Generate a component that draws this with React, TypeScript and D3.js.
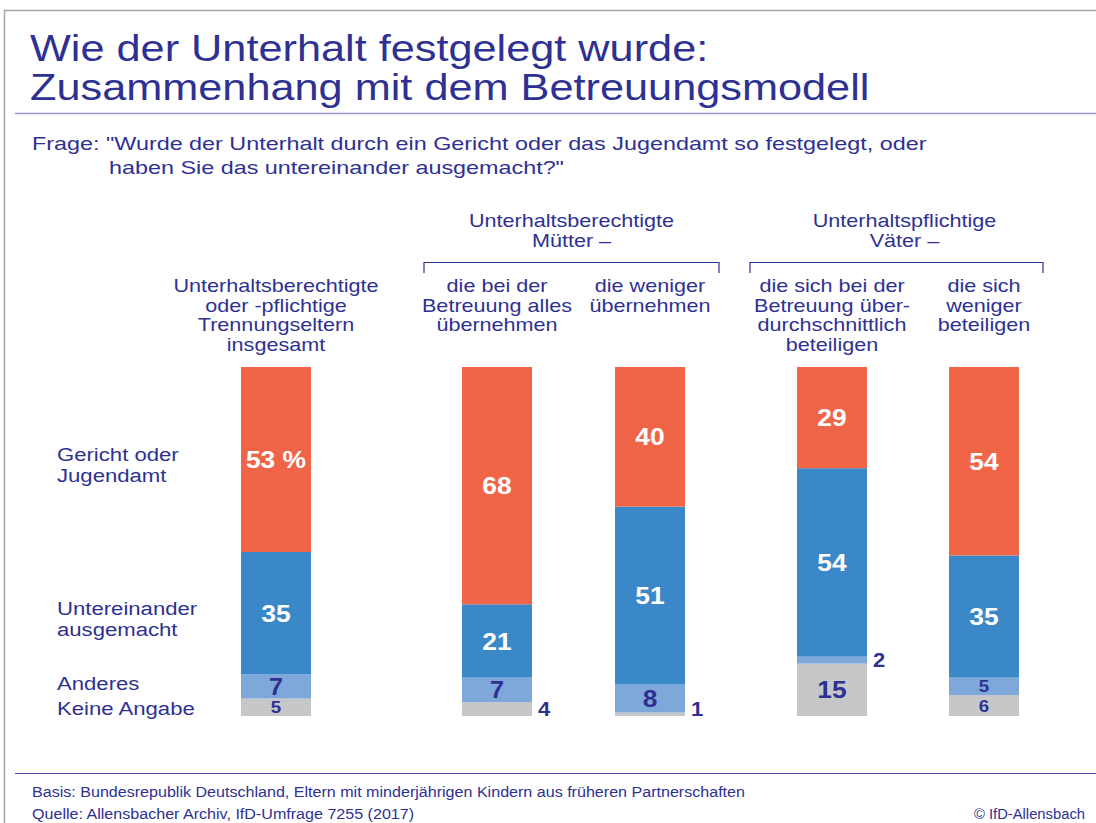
import * as d3 from "d3";

// --- data ---
const columns = ["gesamt", "muetterAlles", "muetterWeniger", "vaeterMehr", "vaeterWeniger"];
const columnLabels = [
  ["Unterhaltsberechtigte", "oder -pflichtige", "Trennungseltern", "insgesamt"],
  ["die bei der", "Betreuung alles", "übernehmen"],
  ["die weniger", "übernehmen"],
  ["die sich bei der", "Betreuung über-", "durchschnittlich", "beteiligen"],
  ["die sich", "weniger", "beteiligen"],
];
const gericht = [53, 68, 40, 29, 54];
const untereinander = [35, 21, 51, 54, 35];
const anderes = [7, 7, 8, 2, 5];
const keineAngabe = [5, 4, 1, 15, 6];

const seriesKeys = ["keine", "anderes", "untereinander", "gericht"];
const seriesLabels = {
  gericht: ["Gericht oder", "Jugendamt"],
  untereinander: ["Untereinander", "ausgemacht"],
  anderes: ["Anderes"],
  keine: ["Keine Angabe"],
};
const groups = [
  { label: ["Unterhaltsberechtigte", "Mütter –"], cols: ["muetterAlles", "muetterWeniger"] },
  { label: ["Unterhaltspflichtige", "Väter –"], cols: ["vaeterMehr", "vaeterWeniger"] },
];

const titleLines = ["Wie der Unterhalt festgelegt wurde:", "Zusammenhang mit dem Betreuungsmodell"];
const questionLines = [
  'Frage: "Wurde der Unterhalt durch ein Gericht oder das Jugendamt so festgelegt, oder',
  'haben Sie das untereinander ausgemacht?"',
];
const basis = "Basis: Bundesrepublik Deutschland, Eltern mit minderjährigen Kindern aus früheren Partnerschaften";
const quelle = "Quelle: Allensbacher Archiv, IfD-Umfrage 7255 (2017)";
const copyright = "© IfD-Allensbach";

const colors = {
  gericht: "#f06548",
  untereinander: "#3a88c8",
  anderes: "#7fa8da",
  keine: "#c6c7c9",
};
const labelShift = { gericht: 6, untereinander: 6, anderes: -3, keine: 1 };
// how far each bracket reaches past its outer bars (left, right), and header nudge
const bracketPad = [
  [38, 34, 0],
  [47, 24, 8],
];
const textBlue = "#2e3192";
const font = "'Liberation Sans', Arial, sans-serif";

// text stretched sideways, the original face is much wider than Arial
const T = ({ x, y, sx = 1.2, anchor = "start", children, ...rest }) => (
  <text transform={`translate(${x},${y}) scale(${sx},1)`} textAnchor={anchor} fill={textBlue} {...rest}>
    {children}
  </text>
);

const App = () => {
  const width = 1096;
  const height = 823;
  const barWidth = 70;

  const rows = columns.map((c, i) => ({
    col: c,
    gericht: gericht[i],
    untereinander: untereinander[i],
    anderes: anderes[i],
    keine: keineAngabe[i],
  }));

  const stacked = d3.stack().keys(seriesKeys)(rows);

  const x = d3.scaleOrdinal().domain(columns).range([276, 497, 650, 832, 984]);
  const y = d3.scaleLinear().domain([0, 100]).range([716, 367]);

  const first = (key) => stacked.find((s) => s.key === key)[0];

  return (
    <svg
      width={width}
      height={height}
      style={{ position: "absolute", left: 0, top: 0, background: "#fff" }}
      fontFamily={font}
    >
      {/* frame */}
      <line x1={4} x2={width} y1={10.5} y2={10.5} stroke="#a3a3a3" strokeWidth={1.5} />
      <line x1={4.5} x2={4.5} y1={10} y2={height} stroke="#a3a3a3" strokeWidth={1.5} />
      <line x1={15} x2={width} y1={113.5} y2={113.5} stroke="#9494cc" strokeWidth={1.5} />
      <line x1={15} x2={width} y1={773.5} y2={773.5} stroke="#4a4aa6" strokeWidth={1.2} />

      {/* title */}
      {titleLines.map((t, i) => (
        <T key={t} x={30} y={61 + i * 39} sx={1.17} fontSize={37}>
          {t}
        </T>
      ))}
      {questionLines.map((t, i) => (
        <T key={t} x={i === 0 ? 32 : 109} y={150 + i * 24} sx={1.23} fontSize={19}>
          {t}
        </T>
      ))}

      {/* group headers */}
      {groups.map((g, gi) => {
        const left = x(g.cols[0]) - barWidth / 2 - bracketPad[gi][0];
        const right = x(g.cols[1]) + barWidth / 2 + bracketPad[gi][1];
        const cx = (left + right) / 2 + bracketPad[gi][2];
        return (
          <g key={g.label[0]}>
            {g.label.map((t, i) => (
              <T key={t} x={cx} y={227 + i * 20} anchor="middle" fontSize={18}>
                {t}
              </T>
            ))}
            <path
              d={`M${left},273V262.5H${right}V273`}
              fill="none"
              stroke={textBlue}
              strokeWidth={1.2}
            />
          </g>
        );
      })}

      {/* column headers */}
      {columns.map((c, i) => (
        <g key={c}>
          {columnLabels[i].map((t, j) => (
            <T key={t} x={x(c)} y={292 + j * 19.7} anchor="middle" fontSize={18}>
              {t}
            </T>
          ))}
        </g>
      ))}

      {/* bars */}
      {stacked.map((s) => (
        <g key={s.key} fill={colors[s.key]}>
          {s.map((d) => (
            <rect
              key={d.data.col}
              x={x(d.data.col) - barWidth / 2}
              y={y(d[1])}
              width={barWidth}
              height={y(d[0]) - y(d[1])}
            />
          ))}
        </g>
      ))}

      {/* value labels */}
      {stacked.map((s) =>
        s.map((d, i) => {
          const v = d[1] - d[0];
          const cy = (y(d[0]) + y(d[1])) / 2;
          const h = y(d[0]) - y(d[1]);
          const inside = v >= 5;
          const white = s.key === "gericht" || s.key === "untereinander";
          const label = s.key === "gericht" && i === 0 ? `${v} %` : `${v}`;
          return (
            <T
              key={s.key + d.data.col}
              x={inside ? x(d.data.col) : x(d.data.col) + barWidth / 2 + 6}
              y={inside ? cy : Math.min(cy, 709)}
              sx={1.1}
              dy="0.36em"
              anchor={inside ? "middle" : "start"}
              fontSize={inside ? (h < 22 ? 17 : h < 26 ? 23 : 24) : 20}
              fontWeight="bold"
              fill={white ? "#fff" : textBlue}
            >
              {label}
            </T>
          );
        })
      )}

      {/* row labels */}
      {seriesKeys.map((k) => {
        const d = first(k);
        const cy = (y(d[0]) + y(d[1])) / 2 + labelShift[k];
        const lines = seriesLabels[k];
        return lines.map((t, j) => (
          <T
            key={t}
            x={57}
            y={cy + (j - (lines.length - 1) / 2) * 21}
            sx={1.23}
            dy="0.36em"
            fontSize={18}
          >
            {t}
          </T>
        ));
      })}

      {/* footer */}
      <T x={32} y={797} sx={1.11} fontSize={14.5}>
        {basis}
      </T>
      <T x={32} y={819} sx={1.11} fontSize={14.5}>
        {quelle}
      </T>
      <T x={1085} y={819} sx={1.02} fontSize={14.5} anchor="end">
        {copyright}
      </T>
    </svg>
  );
};

export default App;
